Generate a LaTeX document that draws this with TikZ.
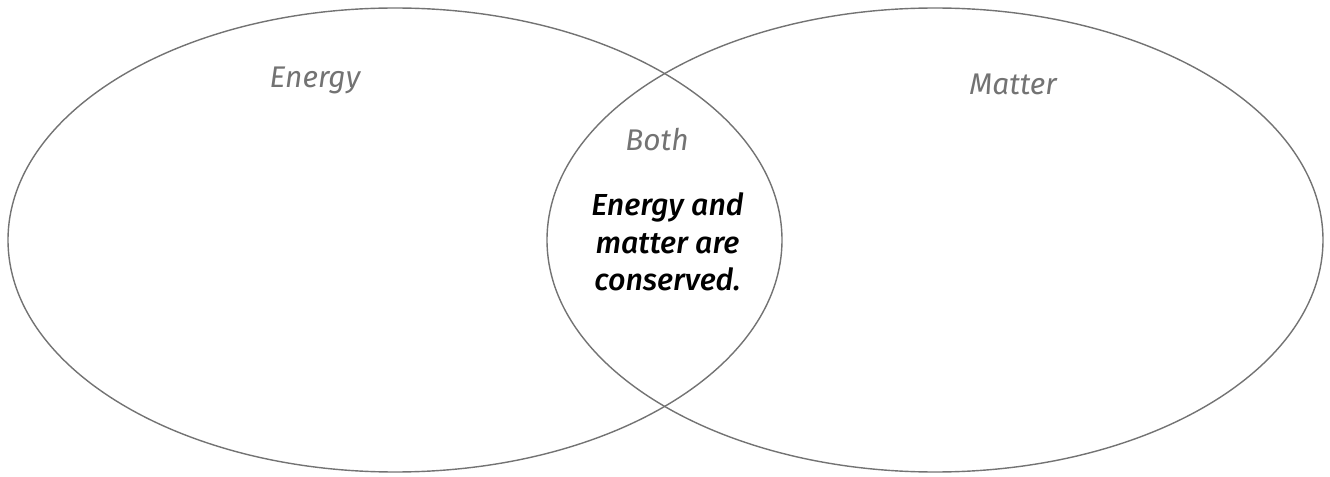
\documentclass[tikz,border=0pt]{standalone}
\usepackage{fontspec}
\setmainfont{Fira Sans}
\newfontfamily\firamedium{Fira Sans Medium}
\usepackage{tikz}
\usepackage{xcolor}
\usetikzlibrary{positioning}

\begin{document}
\begin{tikzpicture}[
    set/.style={draw=black!55, line width=0.8pt},
    label/.style={text=black!55, font=\fontsize{17}{20}\selectfont\itshape, inner sep=0pt, anchor=base},
    shared/.style={text=black, font=\firamedium\fontsize{17.3}{21.5}\selectfont\itshape, align=center, inner sep=0pt}
  ]
  \useasboundingbox (0,0) rectangle (26.6,9.52);
  % the two sets
  \draw[set] (7.90,4.72) ellipse [x radius=7.74cm, y radius=4.64cm];
  \draw[set] (18.70,4.72) ellipse [x radius=7.76cm, y radius=4.64cm];
  % set names
  \node[label] (energy) at (6.30,7.76) {Energy};
  \node[label] (matter) at (20.26,7.62) {Matter};
  \node[label] (both) at (13.14,6.50) {Both};
  % overlap text
  \node[shared, anchor=north] (common) at (13.35,5.68) {Energy and\\matter are\\conserved.};
\end{tikzpicture}
\end{document}
